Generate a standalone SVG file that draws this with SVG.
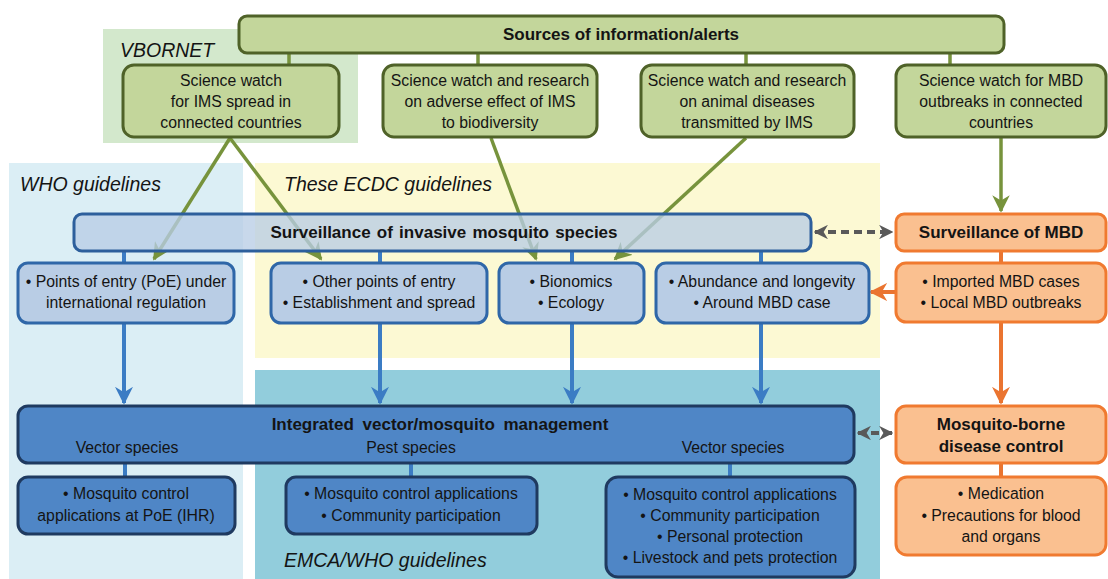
<svg xmlns="http://www.w3.org/2000/svg" width="1108" height="579" viewBox="0 0 1108 579">
  <defs>
    <style>
      text { font-family: "Liberation Sans", Arial, sans-serif; fill: #141414; }
      .t { font-size: 15.8px; text-anchor: middle; }
      .b { font-size: 17px; font-weight: bold; text-anchor: middle; }
      .zone { font-size: 19.5px; font-style: italic; }
      .g1 { fill: #c3d69b; stroke: #4f6228; stroke-width: 3; }
      .bl1 { fill: #b9cde5; stroke: #2f67a8; stroke-width: 3; }
      .bar1 { fill: #b9cde5; fill-opacity: 0.78; stroke: #2d5f9c; stroke-width: 3; }
      .bl2 { fill: #4f86c6; stroke: #1f3a60; stroke-width: 3; }
      .or { fill: #fac090; stroke: #f07a30; stroke-width: 3; }
      .cg { stroke: #77933c; stroke-width: 3.5; fill: none; }
      .cb { stroke: #3b7cc4; stroke-width: 4; fill: none; }
      .co { stroke: #ea7430; stroke-width: 4; fill: none; }
      .cd { stroke: #595959; stroke-width: 4; fill: none; stroke-dasharray: 8 5; }
    </style>
    <marker id="ag" viewBox="0 0 10 10" refX="9" refY="5" markerWidth="5" markerHeight="5" orient="auto" markerUnits="strokeWidth">
      <path d="M0,0 L10,5 L0,10 L3,5 Z" fill="#77933c"/>
    </marker>
    <marker id="ab" viewBox="0 0 10 10" refX="9" refY="5" markerWidth="4.5" markerHeight="4.5" orient="auto" markerUnits="strokeWidth">
      <path d="M0,0 L10,5 L0,10 L3,5 Z" fill="#3b7cc4"/>
    </marker>
    <marker id="ao" viewBox="0 0 10 10" refX="9" refY="5" markerWidth="4.5" markerHeight="4.5" orient="auto" markerUnits="strokeWidth">
      <path d="M0,0 L10,5 L0,10 L3,5 Z" fill="#ea7430"/>
    </marker>
    <marker id="ad" viewBox="0 0 10 10" refX="9" refY="5" markerWidth="3.6" markerHeight="3.6" orient="auto-start-reverse" markerUnits="strokeWidth">
      <path d="M0,0 L10,5 L0,10 L3,5 Z" fill="#595959"/>
    </marker>
  </defs>

  <!-- guideline zones -->
  <g id="zones">
    <rect x="103" y="29" width="255" height="114" fill="#d3e8cc"/>
    <rect x="9" y="163" width="234" height="416" fill="#dbeef5"/>
    <rect x="255" y="163" width="625" height="195" fill="#fcf9d3"/>
    <rect x="255" y="370" width="625" height="209" fill="#92cddc"/>
    <text class="zone" x="120" y="57">VBORNET</text>
    <text class="zone" x="20" y="191">WHO guidelines</text>
    <text class="zone" x="284" y="191">These ECDC guidelines</text>
    <text class="zone" x="284" y="567">EMCA/WHO guidelines</text>
  </g>

  <!-- connectors -->
  <g id="connectors">
    <!-- sources stubs -->
    <path class="cg" d="M289,53 V65 M478,53 V65 M746,53 V65 M950,53 V65"/>
    <!-- sources to surveillance -->
    <path class="cg" d="M230,138 L154,259" marker-end="url(#ag)"/>
    <path class="cg" d="M230,138 L321,259" marker-end="url(#ag)"/>
    <path class="cg" d="M491,138 L536,259" marker-end="url(#ag)"/>
    <path class="cg" d="M746,138 L615,259" marker-end="url(#ag)"/>
    <path class="cg" d="M1001,138 V211" marker-end="url(#ag)"/>
    <!-- surveillance bar stubs -->
    <path class="cb" d="M124,251 V263 M380,251 V263 M572,251 V263 M761,251 V263" stroke-width="3.5"/>
    <!-- to integrated management -->
    <path class="cb" d="M124,323 V403" marker-end="url(#ab)"/>
    <path class="cb" d="M380,323 V403" marker-end="url(#ab)"/>
    <path class="cb" d="M572,323 V403" marker-end="url(#ab)"/>
    <path class="cb" d="M761,323 V403" marker-end="url(#ab)"/>
    <!-- management stubs -->
    <path class="cb" d="M125,463 V477 M411,463 V477 M730,463 V477" stroke-width="3.5"/>
    <!-- MBD side -->
    <path class="co" d="M1001,251 V263" stroke-width="3.5"/>
    <path class="co" d="M896,292 H871" marker-end="url(#ao)"/>
    <path class="co" d="M1001,322 V403" marker-end="url(#ao)"/>
    <path class="co" d="M1001,463 V477" stroke-width="3.5"/>
    <!-- two-way links -->
    <path class="cd" d="M815,232 H892" marker-start="url(#ad)" marker-end="url(#ad)"/>
    <path class="cd" d="M858,433 H892" marker-start="url(#ad)" marker-end="url(#ad)"/>
  </g>

  <!-- sources -->
  <g id="sources">
    <rect class="g1" x="239" y="16" width="765" height="37" rx="8"/>
    <text class="b" x="621" y="40">Sources of information/alerts</text>
  </g>
  <g id="src-vbornet">
    <rect class="g1" x="123" y="65" width="216" height="72" rx="11"/>
    <text class="t" x="231" y="86">Science watch</text>
    <text class="t" x="231" y="107">for IMS spread in</text>
    <text class="t" x="231" y="128">connected countries</text>
  </g>
  <g id="src-biodiversity">
    <rect class="g1" x="383" y="65" width="214" height="72" rx="11"/>
    <text class="t" x="490" y="86">Science watch and research</text>
    <text class="t" x="490" y="107">on adverse effect of IMS</text>
    <text class="t" x="490" y="128">to biodiversity</text>
  </g>
  <g id="src-animal">
    <rect class="g1" x="641" y="65" width="213" height="72" rx="11"/>
    <text class="t" x="747" y="86">Science watch and research</text>
    <text class="t" x="747" y="107">on animal diseases</text>
    <text class="t" x="747" y="128">transmitted by IMS</text>
  </g>
  <g id="src-mbd">
    <rect class="g1" x="896" y="65" width="210" height="72" rx="11"/>
    <text class="t" x="1001" y="86">Science watch for MBD</text>
    <text class="t" x="1001" y="107">outbreaks in connected</text>
    <text class="t" x="1001" y="128">countries</text>
  </g>

  <!-- surveillance of invasive mosquito species -->
  <g id="surveillance-ims">
    <rect class="bar1" x="74" y="214" width="737" height="37" rx="8"/>
    <text class="b" x="444" y="238" word-spacing="1.5">Surveillance of invasive mosquito species</text>
  </g>
  <g id="poe">
    <rect class="bl1" x="18" y="263" width="216" height="60" rx="10"/>
    <text class="t" x="126" y="287">• Points of entry (PoE) under</text>
    <text class="t" x="126" y="308">international regulation</text>
  </g>
  <g id="other-entry">
    <rect class="bl1" x="271" y="263" width="216" height="60" rx="10"/>
    <text class="t" x="379" y="287">• Other points of entry</text>
    <text class="t" x="379" y="308">• Establishment and spread</text>
  </g>
  <g id="bionomics">
    <rect class="bl1" x="499" y="263" width="145" height="60" rx="10"/>
    <text class="t" x="571" y="287">• Bionomics</text>
    <text class="t" x="571" y="308">• Ecology</text>
  </g>
  <g id="abundance">
    <rect class="bl1" x="656" y="263" width="213" height="60" rx="10"/>
    <text class="t" x="762" y="287">• Abundance and longevity</text>
    <text class="t" x="762" y="308">• Around MBD case</text>
  </g>

  <!-- integrated vector / mosquito management -->
  <g id="ivm">
    <rect class="bl2" x="18" y="406" width="836" height="57" rx="10"/>
    <text class="b" x="440" y="430" word-spacing="4">Integrated vector/mosquito management</text>
    <text class="t" x="127" y="453">Vector species</text>
    <text class="t" x="411" y="453">Pest species</text>
    <text class="t" x="733" y="453">Vector species</text>
  </g>
  <g id="ctrl-poe">
    <rect class="bl2" x="18" y="477" width="217" height="57" rx="10"/>
    <text class="t" x="126" y="499">• Mosquito control</text>
    <text class="t" x="126" y="521">applications at PoE (IHR)</text>
  </g>
  <g id="ctrl-pest">
    <rect class="bl2" x="286" y="477" width="251" height="57" rx="10"/>
    <text class="t" x="411" y="499">• Mosquito control applications</text>
    <text class="t" x="411" y="521">• Community participation</text>
  </g>
  <g id="ctrl-vector">
    <rect class="bl2" x="606" y="477" width="249" height="100" rx="12"/>
    <text class="t" x="730" y="500">• Mosquito control applications</text>
    <text class="t" x="730" y="521">• Community participation</text>
    <text class="t" x="730" y="542">• Personal protection</text>
    <text class="t" x="730" y="563">• Livestock and pets protection</text>
  </g>

  <!-- MBD -->
  <g id="surveillance-mbd">
    <rect class="or" x="896" y="214" width="210" height="37" rx="8"/>
    <text class="b" x="1001" y="238">Surveillance of MBD</text>
  </g>
  <g id="mbd-cases">
    <rect class="or" x="896" y="263" width="210" height="59" rx="10"/>
    <text class="t" x="1001" y="287">• Imported MBD cases</text>
    <text class="t" x="1001" y="308">• Local MBD outbreaks</text>
  </g>
  <g id="mbd-control">
    <rect class="or" x="896" y="406" width="210" height="57" rx="10"/>
    <text class="b" x="1001" y="430">Mosquito-borne</text>
    <text class="b" x="1001" y="452">disease control</text>
  </g>
  <g id="mbd-measures">
    <rect class="or" x="896" y="477" width="210" height="78" rx="11"/>
    <text class="t" x="1001" y="499">• Medication</text>
    <text class="t" x="1001" y="521">• Precautions for blood</text>
    <text class="t" x="1001" y="542">and organs</text>
  </g>
</svg>
